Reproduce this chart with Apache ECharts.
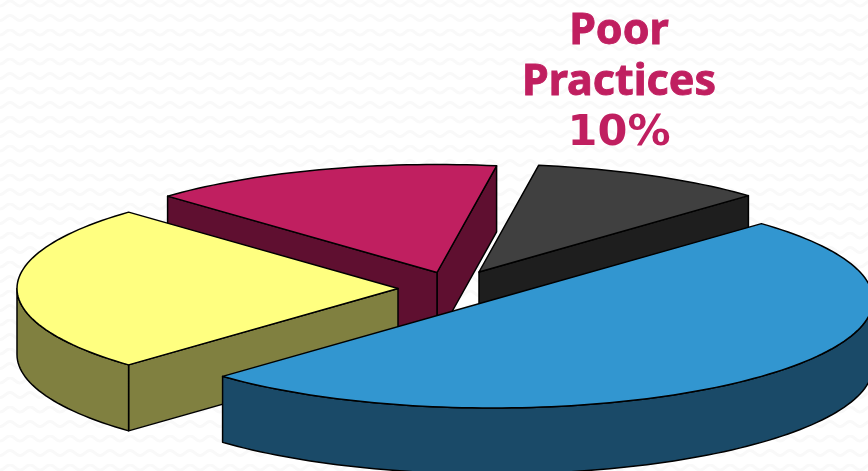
<!DOCTYPE html>
<html>
<head>
<meta charset="utf-8">
<style>html,body{margin:0;padding:0;background:#fff}#chart{width:868px;height:471px}</style>
<script src="https://cdn.jsdelivr.net/npm/echarts@6/dist/echarts.min.js"></script>
</head>
<body>
<div id="chart"></div>
<script>
// Slice data, listed counter-clockwise from the start angle.
const sliceNames = ['Poor Practices', 'Second', 'Third', 'Fourth'];
const sliceValues = [10, 15, 25, 50];
const labelledSlice = 0;

// Styling and projection of the tilted pie.
const topColors = ['#404040', '#C01F60', '#FFFF80', '#3296D0'];
const wallColors = ['#1E1E1E', '#5F0F30', '#808040', '#1A4A68'];
const apexX = [479, 437, 398, 492];
const apexY = [272, 272.5, 288.5, 300];
const radiusX = 381, radiusY = 108, depth = 66, startAngle = 45;

const total = sliceValues.reduce((a, b) => a + b, 0);
const rad = d => d * Math.PI / 180;

function arcPoints(cx, cy, from, to, dy) {
  const pts = [];
  const steps = Math.max(2, Math.ceil(Math.abs(to - from) / 1.5));
  for (let i = 0; i <= steps; i++) {
    const t = rad(from + (to - from) * i / steps);
    pts.push([cx + radiusX * Math.cos(t), cy - radiusY * Math.sin(t) + dy]);
  }
  return pts;
}

function face(points, fill) {
  return {
    type: 'polygon',
    shape: { points },
    style: { fill, stroke: '#000', lineWidth: 1.5, lineJoin: 'round' },
    silent: true
  };
}

function labelText(text, y, family, heft) {
  return {
    type: 'text',
    z2: 10,
    silent: true,
    style: {
      x: 619, y,
      text,
      align: 'center', verticalAlign: 'top',
      fill: '#C01F60',
      stroke: '#C01F60',
      lineWidth: heft,
      font: 'bold 43px ' + family,
      lineHeight: 51
    }
  };
}

function renderSlice(params, api) {
  const i = params.dataIndex;
  const before = sliceValues.slice(0, i).reduce((a, b) => a + b, 0);
  const a0 = startAngle + before / total * 360;
  const a1 = a0 + api.value(0) / total * 360;
  const cx = apexX[i], cy = apexY[i];
  const wall = wallColors[i];
  const edgePoint = (a, dy) => [cx + radiusX * Math.cos(rad(a)), cy - radiusY * Math.sin(rad(a)) + dy];
  const children = [];

  // Radial walls are drawn only when they face the viewer.
  [[a0, a0 - 90], [a1, a1 + 90]].forEach(([a, normal]) => {
    if (Math.sin(rad(normal)) < 0) {
      children.push(face([[cx, cy], edgePoint(a, 0), edgePoint(a, depth), [cx, cy + depth]], wall));
    }
  });

  // Rim wall: only the part of the arc on the near half of the ellipse.
  const from = Math.max(a0, 180), to = Math.min(a1, 360);
  if (to > from) {
    children.push(face(arcPoints(cx, cy, from, to, 0).concat(arcPoints(cx, cy, to, from, depth)), wall));
  }

  // Top face.
  children.push(face([[cx, cy]].concat(arcPoints(cx, cy, a0, a1, 0)), topColors[i]));

  if (i === labelledSlice) {
    children.push(labelText('Poor\nPractices', 6, '"Noto Sans"', 0.9));
    children.push(labelText(api.value(0) + '%', 108, '"DejaVu Sans"', 0));
  }
  return { type: 'group', children };
}

// Faint repeating wave texture behind the pie.
function waveTile() {
  const tile = document.createElement('canvas');
  tile.width = 20;
  tile.height = 29;
  const ctx = tile.getContext('2d');
  ctx.fillStyle = '#FFFFFF';
  ctx.fillRect(0, 0, 20, 29);
  ctx.strokeStyle = '#F9F9F9';
  ctx.lineWidth = 3;
  [3.5, 18].forEach(base => {
    ctx.beginPath();
    for (let x = -1; x <= 21; x++) {
      const y = base - 2.5 * Math.cos(2 * Math.PI * (x - 10) / 20);
      if (x === -1) ctx.moveTo(x, y); else ctx.lineTo(x, y);
    }
    ctx.stroke();
  });
  return tile;
}

const chart = echarts.init(document.getElementById('chart'), null, { renderer: 'canvas' });
chart.setOption({
  animation: false,
  backgroundColor: { image: waveTile(), repeat: 'repeat' },
  series: [{
    type: 'custom',
    coordinateSystem: 'none',
    renderItem: renderSlice,
    data: sliceValues.map((v, i) => ({ name: sliceNames[i], value: [v] }))
  }]
});
</script>
</body>
</html>
